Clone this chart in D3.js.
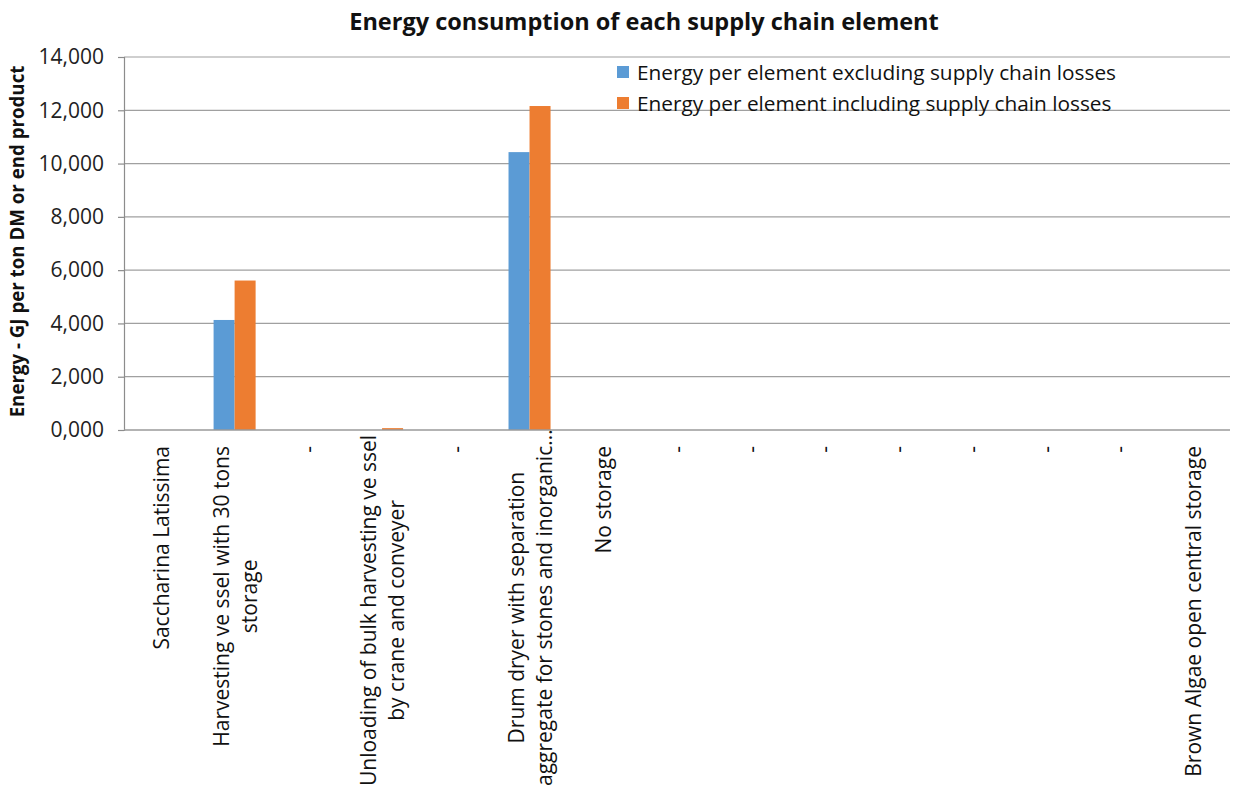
<!DOCTYPE html>
<html>
<head>
<meta charset="utf-8">
<script src="https://cdn.jsdelivr.net/npm/d3@7"></script>
<style>
  html, body { margin: 0; padding: 0; background: #fff; }
  svg { display: block; font-family: "Open Sans", sans-serif; }
</style>
</head>
<body>
<svg id="chart" width="1237" height="789"></svg>
<script>
// Supply chain elements (label lines per category)
const categories = [
  ["Saccharina Latissima"],
  ["Harvesting ve ssel with 30 tons", "storage"],
  ["-"],
  ["Unloading of bulk harvesting ve ssel", "by crane and conveyer"],
  ["-"],
  ["Drum dryer with separation", "aggregate for stones and inorganic..."],
  ["No storage"],
  ["-"], ["-"], ["-"], ["-"], ["-"], ["-"], ["-"],
  ["Brown Algae open central storage"]
];
const seriesNames = [
  "Energy per element excluding supply chain losses",
  "Energy per element including supply chain losses"
];
const excludingLosses = [0, 4.13, 0, 0, 0, 10.43, 0, 0, 0, 0, 0, 0, 0, 0, 0];
const includingLosses = [0, 5.61, 0, 0.07, 0, 12.16, 0, 0, 0, 0, 0, 0, 0, 0, 0];
const yTicks = [0, 2, 4, 6, 8, 10, 12, 14];
const colors = ["#5b9bd5", "#ed7d31"];

const svg = d3.select("#chart");
const margin = { left: 124, right: 1230, top: 57, bottom: 430 };

const x0 = d3.scaleBand()
  .domain(d3.range(categories.length))
  .range([margin.left, margin.right])
  .paddingInner(0.43)
  .paddingOuter(0.215);
const x1 = d3.scaleBand()
  .domain([0, 1])
  .range([0, x0.bandwidth()]);
const y = d3.scaleLinear().domain([0, 14]).range([margin.bottom, margin.top]);

const fmt = d3.formatLocale({ decimal: ",", thousands: ".", grouping: [3], currency: ["", ""] }).format(".3f");

// Horizontal gridlines
svg.append("g")
  .selectAll("line")
  .data(yTicks.filter(d => d > 0))
  .join("line")
  .attr("x1", margin.left).attr("x2", margin.right)
  .attr("y1", d => y(d)).attr("y2", d => y(d))
  .attr("stroke", "#a0a0a0").attr("stroke-width", 1.2);

// Bars
const series = [excludingLosses, includingLosses];
series.forEach((vals, si) => {
  svg.append("g")
    .selectAll("rect")
    .data(vals.map((v, i) => ({ v, i })).filter(d => d.v > 0))
    .join("rect")
    .attr("x", d => x0(d.i) + x1(si))
    .attr("width", x1.bandwidth())
    .attr("y", d => y(d.v))
    .attr("height", d => y(0) - y(d.v))
    .attr("fill", colors[si]);
});

// Y axis
const yAxis = svg.append("g")
  .attr("transform", `translate(${margin.left},0)`)
  .call(d3.axisLeft(y).tickValues(yTicks).tickFormat(fmt).tickSize(6).tickPadding(14));
yAxis.select(".domain").attr("stroke", "#8c8c8c").attr("stroke-width", 1.2);
yAxis.selectAll(".tick line").attr("stroke", "#8c8c8c").attr("stroke-width", 1.2);
yAxis.selectAll(".tick text")
  .attr("fill", "#222")
  .style("font-size", "21px")
  .style("font-family", "Open Sans, sans-serif");

// X axis baseline
svg.append("line")
  .attr("x1", margin.left).attr("x2", margin.right)
  .attr("y1", y(0)).attr("y2", y(0))
  .attr("stroke", "#9a9a9a").attr("stroke-width", 1.6);

// Rotated category labels, lines centred within each block
const labelTop = 446;
const labelBottomLimit = 786;
const lineGap = 28;
categories.forEach((lines, i) => {
  const cx = x0(i) + x0.bandwidth() / 2;
  const g = svg.append("g");
  const texts = lines.map(t => g.append("text")
    .text(t)
    .attr("text-anchor", "middle")
    .attr("dominant-baseline", "central")
    .attr("fill", "#111")
    .style("font-size", "21px"));
  const L = d3.max(texts, t => t.node().getComputedTextLength());
  const top = Math.min(labelTop, labelBottomLimit - L);
  g.attr("transform", `translate(${cx},${top}) rotate(-90)`);
  texts.forEach((t, k) => {
    t.attr("x", -L / 2).attr("y", (k - (lines.length - 1) / 2) * lineGap);
  });
});

// Title
svg.append("text")
  .attr("x", 644).attr("y", 30)
  .attr("text-anchor", "middle")
  .attr("fill", "#111")
  .style("font-size", "23.5px").style("font-weight", "bold")
  .text("Energy consumption of each supply chain element");

// Y axis title
svg.append("text")
  .attr("transform", `translate(24,${(margin.top + margin.bottom) / 2 - 2}) rotate(-90)`)
  .attr("text-anchor", "middle")
  .attr("fill", "#111")
  .style("font-size", "18.7px").style("font-weight", "bold")
  .text("Energy - GJ per ton DM or end product");

// Legend
const legend = svg.append("g");
seriesNames.forEach((name, i) => {
  const ly = 72 + i * 31;
  legend.append("rect")
    .attr("x", 617).attr("y", ly - 6).attr("width", 12).attr("height", 12)
    .attr("fill", colors[i]);
  legend.append("text")
    .attr("x", 637).attr("y", ly)
    .attr("dominant-baseline", "central")
    .attr("fill", "#111")
    .style("font-size", "20.8px")
    .text(name);
});
</script>
</body>
</html>
